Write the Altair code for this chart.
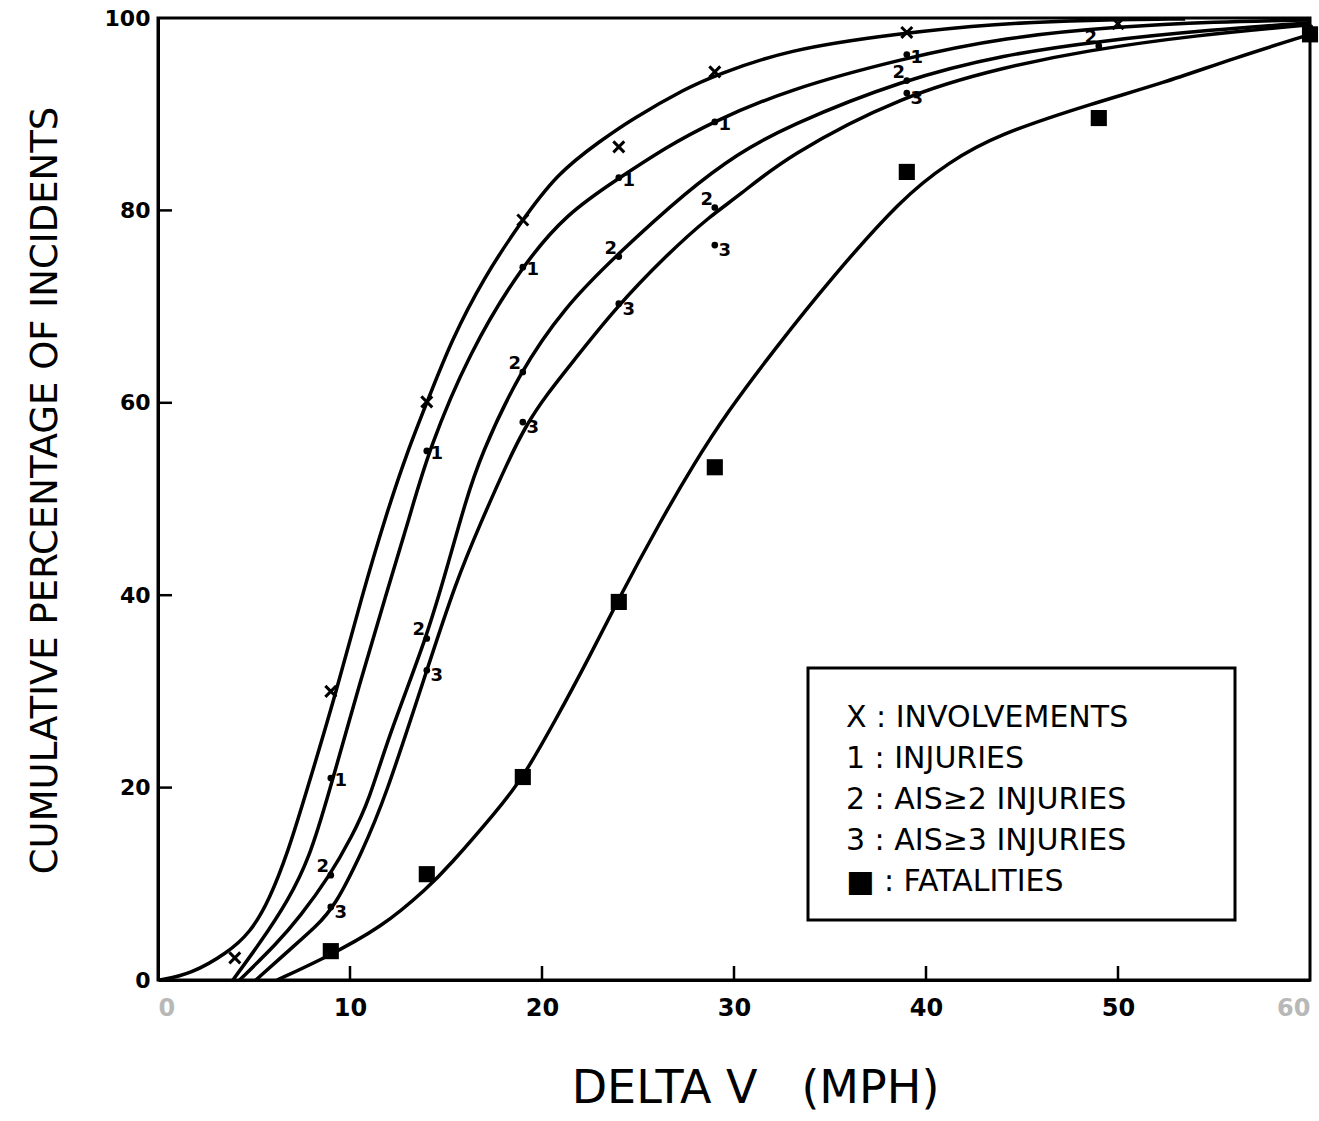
import altair as alt
import pandas as pd

# ---------------- data ----------------
x_ticks = [0, 10, 20, 30, 40, 50, 60]
y_ticks = [0, 20, 40, 60, 80, 100]

# fitted curves (traced points)
inv_cx = [0.1, 1.7, 3.6, 4.8, 5.8, 6.8, 7.6, 9.3, 10.6, 11.9, 13.0, 14.0, 15.3, 17.0, 18.8, 20.8, 23.1, 24.6, 27.6, 29.0, 32.7, 38.6, 43.6, 48.5, 53.5]
inv_cy = [0.0, 0.6, 2.8, 4.9, 8.3, 13.5, 18.7, 30.0, 39.8, 48.5, 55.0, 60.0, 66.6, 73.1, 78.5, 83.9, 87.3, 89.4, 92.8, 94.0, 96.7, 98.4, 99.4, 99.8, 99.9]

inj_cx = [3.9, 5.3, 6.8, 7.9, 8.8, 10.6, 11.9, 13.1, 14.1, 16.2, 18.9, 21.3, 23.9, 26.5, 28.8, 32.7, 38.8, 44.1, 50.0, 55.0, 60.0]
inj_cy = [0.0, 3.8, 8.3, 12.8, 18.7, 31.5, 40.2, 48.1, 55.1, 65.2, 74.1, 79.7, 83.2, 86.6, 89.1, 92.5, 95.8, 98.0, 99.1, 99.6, 99.8]

ais2_cx = [4.25, 6.2, 7.4, 8.9, 10.1, 11.0, 12.0, 14.0, 15.1, 16.0, 16.8, 18.8, 21.2, 23.8, 27.6, 30.2, 32.7, 38.8, 44.1, 49.0, 55.0, 60.0]
ais2_cy = [0.0, 3.8, 6.6, 10.7, 14.9, 18.7, 25.3, 35.6, 43.2, 49.6, 54.5, 63.1, 70.0, 75.2, 82.1, 85.9, 88.7, 93.6, 96.2, 97.6, 98.8, 99.5]

ais3_cx = [5.1, 7.0, 8.2, 9.2, 10.6, 11.8, 14.0, 15.5, 16.8, 18.2, 19.2, 20.3, 21.5, 23.8, 26.5, 28.8, 30.2, 32.7, 38.8, 44.1, 48.3, 54.0, 60.0]
ais3_cy = [0.0, 3.4, 5.5, 7.6, 13.2, 18.7, 32.2, 41.3, 47.5, 53.8, 57.8, 61.0, 64.0, 69.8, 75.4, 79.5, 81.4, 85.6, 92.0, 94.9, 96.6, 98.2, 99.3]

fat_cx = [6.2, 8.5, 11.7, 14.1, 15.1, 17.7, 19.0, 20.7, 22.4, 23.9, 26.2, 27.9, 29.6, 32.2, 35.0, 38.8, 41.2, 43.6, 48.8, 52.3, 56.0, 60.0]
fat_cy = [0.0, 2.1, 5.5, 9.7, 11.7, 17.7, 21.0, 27.0, 33.3, 39.3, 47.8, 53.6, 58.9, 65.8, 72.8, 81.4, 85.0, 87.8, 91.2, 93.2, 95.8, 98.3]

# observed points
inv_px = [4, 9, 14, 19, 24, 29, 39, 50]
inv_py = [2.3, 30.0, 60.1, 79.0, 86.6, 94.4, 98.5, 99.4]

inj_px = [9, 14, 19, 24, 29, 39, 60]
inj_py = [21.0, 55.0, 74.1, 83.4, 89.2, 96.2, 99.0]

ais2_px = [9, 14, 19, 24, 29, 39, 49]
ais2_py = [10.9, 35.5, 63.2, 75.2, 80.3, 93.5, 97.1]

ais3_px = [9, 14, 19, 24, 29, 39]
ais3_py = [7.6, 32.2, 58.0, 70.3, 76.4, 92.2]

fat_px = [9, 14, 19, 24, 29, 39, 49, 60]
fat_py = [3.0, 11.0, 21.1, 39.3, 53.3, 84.0, 89.6, 98.3]

legend_lines = ["X : INVOLVEMENTS", "1 : INJURIES", "2 : AIS≥2 INJURIES",
                "3 : AIS≥3 INJURIES", "■ : FATALITIES"]

# ---------------- build tables ----------------
curves = pd.concat([
    pd.DataFrame({"series": name, "x": cx, "y": cy})
    for name, cx, cy in [
        ("Involvements", inv_cx, inv_cy),
        ("Injuries", inj_cx, inj_cy),
        ("AIS2", ais2_cx, ais2_cy),
        ("AIS3", ais3_cx, ais3_cy),
        ("Fatalities", fat_cx, fat_cy),
    ]
], ignore_index=True)

W, H = 1152, 962
FONT = "DejaVu Sans"
NB = "\u00a0"

xs = alt.Scale(domain=[0, 60], nice=False, zero=False)
ys = alt.Scale(domain=[0, 100], nice=False, zero=False)

X = alt.X("x:Q", scale=xs, axis=alt.Axis(
    values=x_ticks, ticks=False, grid=False, labelFontSize=24, labelFont=FONT,
    labelFontWeight="bold", labelPadding=16, labelColor=alt.condition(
        "datum.value == 0 || datum.value == 60", alt.value("#b8b8b8"), alt.value("black")),
    domainColor="black", domainWidth=3, labelFlush=True,
    title=f"DELTA{NB}V{NB}{NB}{NB}(MPH)", titleFontSize=46, titleFont=FONT,
    titleFontWeight="normal", titleX=597, titleY=108, titleAlign="center",
    titleBaseline="middle"))
Y = alt.Y("y:Q", scale=ys, axis=alt.Axis(
    values=y_ticks, ticks=False, grid=False, labelFontSize=22, labelFont=FONT,
    labelFontWeight="bold", labelPadding=8, domainColor="black", domainWidth=3,
    title="CUMULATIVE PERCENTAGE OF INCIDENTS", titleFontSize=37, titleFont=FONT,
    titleFontWeight="normal", titleAngle=-90, titleX=-113, titleY=472,
    titleAlign="center", titleBaseline="middle", labelFlush=False))

lines = alt.Chart(curves).mark_line(
    color="black", strokeWidth=3.5, interpolate="basis"
).encode(x=X, y=Y, detail="series:N", order="x:Q")

xtick_rules = alt.Chart(pd.DataFrame({"t": x_ticks[1:-1]})).mark_rule(
    color="black", strokeWidth=2.5).encode(
    x=alt.X("t:Q", scale=xs), y=alt.value(H), y2=alt.value(H - 14))
ytick_rules = alt.Chart(pd.DataFrame({"t": y_ticks[1:-1]})).mark_rule(
    color="black", strokeWidth=2.5).encode(
    y=alt.Y("t:Q", scale=ys), x=alt.value(0), x2=alt.value(14))

inv_pts = alt.Chart(pd.DataFrame({"x": inv_px, "y": inv_py})).mark_point(
    shape="M -1 -1 L 1 1 M -1 1 L 1 -1", filled=False, color="black",
    strokeWidth=3, size=120, opacity=1).encode(x=alt.X("x:Q", scale=xs), y=alt.Y("y:Q", scale=ys))

fat_pts = alt.Chart(pd.DataFrame({"x": fat_px, "y": fat_py})).mark_point(
    shape="square", filled=True, color="black", size=260, opacity=1).encode(
    x=alt.X("x:Q", scale=xs), y=alt.Y("y:Q", scale=ys))

num_layers = []
for lab, px, py, dx, dy in [("1", inj_px, inj_py, 10, 3),
                            ("2", ais2_px, ais2_py, -8, -8),
                            ("3", ais3_px, ais3_py, 10, 6)]:
    df = pd.DataFrame({"x": px, "y": py, "lab": lab})
    dots = alt.Chart(df).mark_circle(color="black", size=45, opacity=1).encode(
        x=alt.X("x:Q", scale=xs), y=alt.Y("y:Q", scale=ys))
    txt = alt.Chart(df).transform_filter("datum.x < 60").mark_text(
        font=FONT, fontSize=18, fontWeight="bold", color="black", dx=dx, dy=dy).encode(
        x=alt.X("x:Q", scale=xs), y=alt.Y("y:Q", scale=ys), text="lab:N")
    num_layers += [dots, txt]

# legend box (pixel layout inside the plot area)
legend_box = alt.Chart(pd.DataFrame({"k": [0]})).mark_rect(
    fill="white", stroke="black", strokeWidth=3).encode(
    x=alt.value(650), x2=alt.value(1077), y=alt.value(650), y2=alt.value(902))

legend_texts = []
for i, line in enumerate(legend_lines):
    legend_texts.append(
        alt.Chart(pd.DataFrame({"t": [line]})).mark_text(
            font=FONT, fontSize=30, align="left", baseline="middle", color="black").encode(
            x=alt.value(688), y=alt.value(700 + 41 * i), text="t:N"))

chart = alt.layer(
    lines, xtick_rules, ytick_rules, inv_pts, fat_pts, *num_layers,
    legend_box, *legend_texts
).properties(
    width=W, height=H,
    autosize=alt.AutoSizeParams(type="none"),
    padding={"left": 158, "top": 18, "right": 9, "bottom": 141},
    background="white",
).configure_view(stroke="black", strokeWidth=3)

chart.save("out.html", embed_options={"renderer": "svg", "actions": False})
